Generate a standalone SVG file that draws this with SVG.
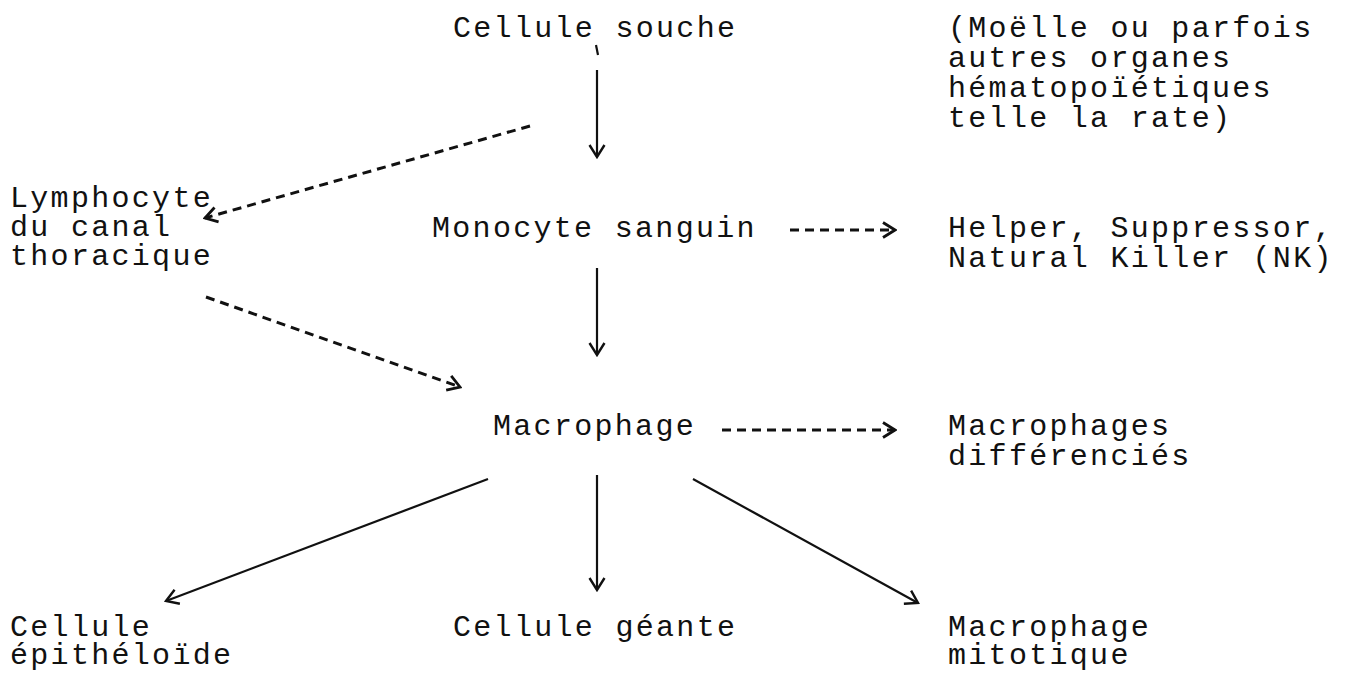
<svg xmlns="http://www.w3.org/2000/svg" width="1345" height="674" viewBox="0 0 1345 674">
<style>
text{font-family:"Liberation Mono","DejaVu Sans Mono",monospace;font-size:30px;letter-spacing:2.3px;fill:#111}
.s{stroke:#111;stroke-width:2.2;fill:none}
.d{stroke:#111;stroke-width:3;fill:none;stroke-dasharray:9 6}
</style>
<defs>
<marker id="ah" viewBox="0 0 16 18" refX="14" refY="9" markerWidth="16" markerHeight="18" markerUnits="userSpaceOnUse" orient="auto">
<path d="M2,1.5 L14,9 L2,16.5" fill="none" stroke="#111" stroke-width="2.4"/>
</marker>
<marker id="ahd" viewBox="0 0 16 18" refX="14" refY="9" markerWidth="16" markerHeight="18" markerUnits="userSpaceOnUse" orient="auto">
<path d="M2,1.5 L14,9 L2,16.5" fill="none" stroke="#111" stroke-width="2.8"/>
</marker>
</defs>
<rect width="1345" height="674" fill="#fff"/>
<g id="connectors">
<line class="s" x1="596" y1="45" x2="598" y2="55"/>
<line class="s" x1="597" y1="70" x2="597" y2="157" marker-end="url(#ah)"/>
<line class="d" x1="530" y1="126" x2="205" y2="218" marker-end="url(#ahd)"/>
<line class="d" x1="790" y1="230" x2="895" y2="230" marker-end="url(#ahd)"/>
<line class="s" x1="597" y1="268" x2="597" y2="355" marker-end="url(#ah)"/>
<line class="d" x1="206" y1="297" x2="460" y2="387" marker-end="url(#ahd)"/>
<line class="d" x1="722" y1="430" x2="895" y2="430" marker-end="url(#ahd)"/>
<line class="s" x1="488" y1="479" x2="166" y2="601" marker-end="url(#ah)"/>
<line class="s" x1="597" y1="475" x2="597" y2="590" marker-end="url(#ah)"/>
<line class="s" x1="693" y1="479" x2="918" y2="603" marker-end="url(#ah)"/>
</g>
<g id="n-souche"><text x="453" y="37">Cellule souche</text></g>
<g id="n-moelle"><text x="948" y="37">(Moëlle ou parfois</text><text x="948" y="67">autres organes</text><text x="948" y="97">hématopoïétiques</text><text x="948" y="127">telle la rate)</text></g>
<g id="n-lympho"><text x="10" y="207">Lymphocyte</text><text x="10" y="236">du canal</text><text x="10" y="265">thoracique</text></g>
<g id="n-monocyte"><text x="432" y="237">Monocyte sanguin</text></g>
<g id="n-helper"><text x="948" y="237">Helper, Suppressor,</text><text x="948" y="267">Natural Killer (NK)</text></g>
<g id="n-macrophage"><text x="493" y="435">Macrophage</text></g>
<g id="n-macdiff"><text x="948" y="435">Macrophages</text><text x="948" y="465">différenciés</text></g>
<g id="n-epith"><text x="10" y="636">Cellule</text><text x="10" y="664">épithéloïde</text></g>
<g id="n-geante"><text x="453" y="636">Cellule géante</text></g>
<g id="n-mitot"><text x="948" y="636">Macrophage</text><text x="948" y="664">mitotique</text></g>
</svg>
